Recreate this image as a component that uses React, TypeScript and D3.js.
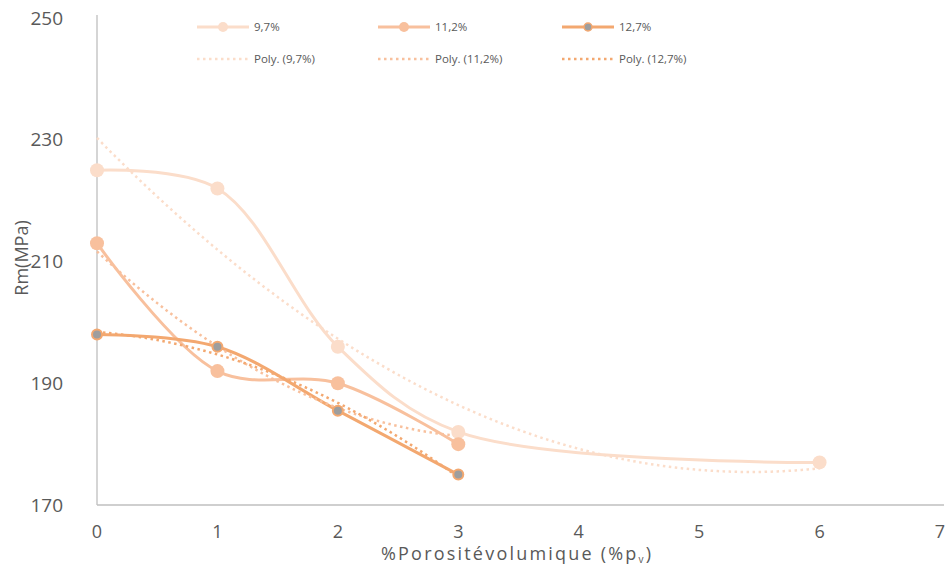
import React from "react";
import * as d3 from "d3";

const seriesNames = ["9,7%", "11,2%", "12,7%"];
const xs97 = [0, 1, 2, 3, 6];
const ys97 = [225, 222, 196, 182, 177];
const xs112 = [0, 1, 2, 3];
const ys112 = [213, 192, 190, 180];
const xs127 = [0, 1, 2, 3];
const ys127 = [198, 196, 185.5, 175];
const yTicks = [170, 190, 210, 230, 250];
const xTicks = [0, 1, 2, 3, 4, 5, 6, 7];

const colors = ["#FBDDCA", "#F8C09D", "#F3A870"];
const FONT = "'Open Sans', sans-serif";

function polyfit2(xs: number[], ys: number[]) {
  const n = xs.length;
  let s1 = 0, s2 = 0, s3 = 0, s4 = 0, t0 = 0, t1 = 0, t2 = 0;
  for (let i = 0; i < n; i++) {
    const x = xs[i], y = ys[i];
    s1 += x; s2 += x * x; s3 += x * x * x; s4 += x * x * x * x;
    t0 += y; t1 += x * y; t2 += x * x * y;
  }
  const M = [
    [n, s1, s2, t0],
    [s1, s2, s3, t1],
    [s2, s3, s4, t2],
  ];
  for (let i = 0; i < 3; i++) {
    const p = M[i][i];
    for (let j = i; j < 4; j++) M[i][j] /= p;
    for (let k = 0; k < 3; k++) {
      if (k === i) continue;
      const f = M[k][i];
      for (let j = i; j < 4; j++) M[k][j] -= f * M[i][j];
    }
  }
  return [M[0][3], M[1][3], M[2][3]];
}

export default function App() {
  const x = d3.scaleLinear().domain([0, 7]).range([97, 940]);
  const y = d3.scaleLinear().domain([170, 250]).range([505, 18]);
  const series = [
    { xs: xs97, ys: ys97 },
    { xs: xs112, ys: ys112 },
    { xs: xs127, ys: ys127 },
  ];
  const smooth = d3
    .line<[number, number]>()
    .x((d) => x(d[0]))
    .y((d) => y(d[1]))
    .curve(d3.curveCatmullRom.alpha(0.5));
  const straight = d3
    .line<[number, number]>()
    .x((d) => x(d[0]))
    .y((d) => y(d[1]));

  const trends = series.map((s) => {
    const [a, b, c] = polyfit2(s.xs, s.ys);
    const xmax = d3.max(s.xs) as number;
    const pts: [number, number][] = d3
      .range(0, xmax + 0.0001, 0.05)
      .map((t) => [t, a + b * t + c * t * t]);
    return pts;
  });

  const legendCols = [197, 378, 562];
  const textGray = "#595959";

  return (
    <svg
      width={950}
      height={570}
      style={{ position: "absolute", left: 0, top: 0, background: "#fff" }}
      fontFamily={FONT}
    >
      {/* axes */}
      <line x1={97} x2={97} y1={15} y2={505} stroke="#BFBFBF" strokeWidth={1.3} />
      <line x1={97} x2={944} y1={505} y2={505} stroke="#BFBFBF" strokeWidth={1.3} />
      {yTicks.map((t) => (
        <text key={t} x={63} y={y(t)} dy="0.35em" textAnchor="end" fontSize={19} fill={textGray}>
          {t}
        </text>
      ))}
      {xTicks.map((t) => (
        <text key={t} x={x(t)} y={532} dy="0.35em" textAnchor="middle" fontSize={18} fill={textGray}>
          {t}
        </text>
      ))}
      <text
        x={381}
        y={560}
        fontSize={18}
        fill={textGray}
        textLength={270}
        lengthAdjust="spacing"
      >
        %Porositévolumique (%p
        <tspan fontSize={10} dy={3}>v</tspan>
        <tspan dy={-3}>)</tspan>
      </text>
      <text
        transform={`translate(22,258) rotate(-90)`}
        textAnchor="middle"
        dy="0.35em"
        fontSize={18}
        fill={textGray}
      >
        Rm(MPa)
      </text>

      {/* series lines */}
      {series.map((s, i) => (
        <path
          key={"l" + i}
          d={smooth(s.xs.map((v, j) => [v, s.ys[j]] as [number, number])) || ""}
          fill="none"
          stroke={colors[i]}
          strokeWidth={3}
        />
      ))}
      {/* trendlines */}
      {trends.map((pts, i) => (
        <path
          key={"t" + i}
          d={straight(pts) || ""}
          fill="none"
          stroke={colors[i]}
          strokeWidth={2.5}
          strokeDasharray="2.5 3.5"
        />
      ))}
      {/* markers */}
      {series.map((s, i) =>
        s.xs.map((v, j) => (
          <circle
            key={"m" + i + "-" + j}
            cx={x(v)}
            cy={y(s.ys[j])}
            r={i === 2 ? 5 : 7}
            fill={i === 2 ? "#9E9E9E" : colors[i]}
            stroke={colors[i]}
            strokeWidth={i === 2 ? 2 : 0}
          />
        ))
      )}

      {/* legend */}
      {seriesNames.map((n, i) => (
        <g key={"lg" + i}>
          <line x1={legendCols[i]} x2={legendCols[i] + 52} y1={27} y2={27} stroke={colors[i]} strokeWidth={3} />
          <circle
            cx={legendCols[i] + 26}
            cy={27}
            r={i === 2 ? 4 : 5}
            fill={i === 2 ? "#9E9E9E" : colors[i]}
            stroke={colors[i]}
            strokeWidth={i === 2 ? 1.5 : 0}
          />
          <text x={legendCols[i] + 57} y={27} dy="0.35em" fontSize={11.5} fill={textGray}>
            {n}
          </text>
          <line
            x1={legendCols[i]}
            x2={legendCols[i] + 52}
            y1={59}
            y2={59}
            stroke={colors[i]}
            strokeWidth={2.5}
            strokeDasharray="2.5 3.5"
          />
          <text x={legendCols[i] + 57} y={59} dy="0.35em" fontSize={11.5} fill={textGray}>
            {`Poly. (${n})`}
          </text>
        </g>
      ))}
    </svg>
  );
}
